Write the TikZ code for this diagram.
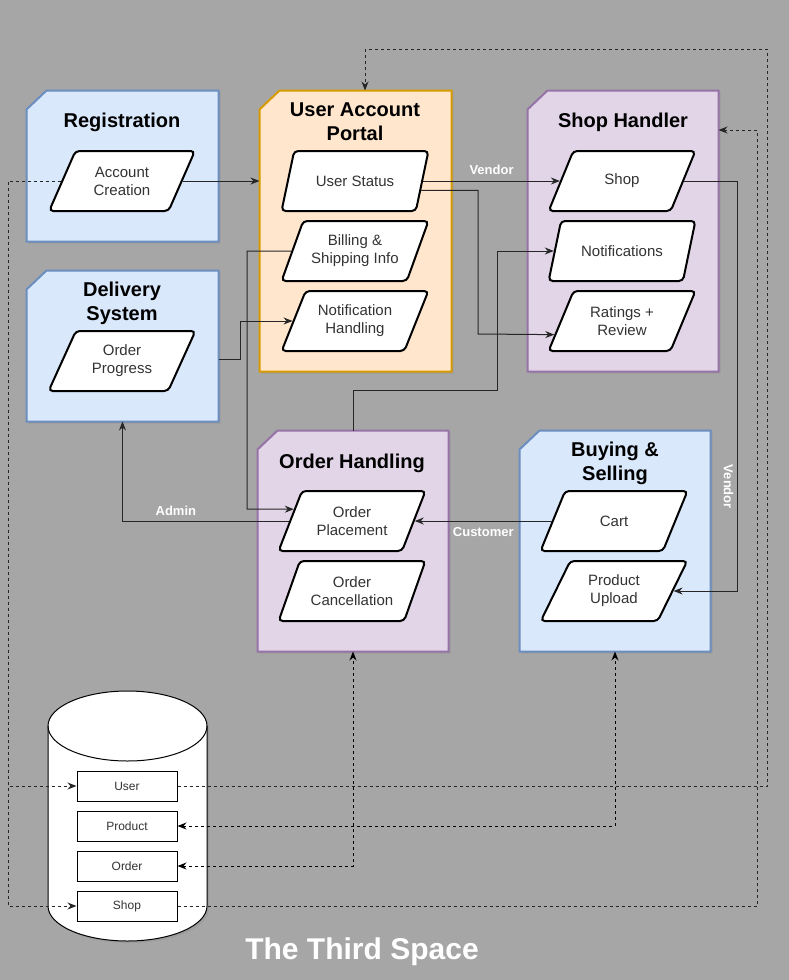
\documentclass[tikz,border=0pt]{standalone}
\usepackage{fontspec}
\setmainfont{Liberation Sans}
\usetikzlibrary{shapes.geometric,arrows.meta,shadows,calc,positioning}
\definecolor{bgray}{RGB}{166,166,166}
\definecolor{bluefill}{HTML}{DAE8FC}
\definecolor{blueline}{HTML}{6C8EBF}
\definecolor{orangefill}{HTML}{FFE6CC}
\definecolor{orangeline}{HTML}{D79B00}
\definecolor{purplefill}{HTML}{E1D5E7}
\definecolor{purpleline}{HTML}{9673A6}
\begin{document}
\begin{tikzpicture}[x=1pt, y=-1pt, line width=1pt, node distance=70pt,
    box/.style = {rectangle, inner sep=0pt},
    card/.style = {line width=2pt, drop shadow={shadow xshift=2pt, shadow yshift=-2pt, opacity=0.25}},
    bluecard/.style = {card, draw=blueline, fill=bluefill},
    orangecard/.style = {card, draw=orangeline, fill=orangefill},
    purplecard/.style = {card, draw=purpleline, fill=purplefill},
    title/.style = {font=\fontsize{20}{24}\selectfont\bfseries, align=center},
    proc/.style = {trapezium, trapezium left angle=63, trapezium right angle=117, trapezium stretches=true, minimum width=147pt, minimum height=60pt, draw, fill=white, line width=2pt, rounded corners=4pt, align=center, text=black!80, font=\fontsize{15}{18}\selectfont},
    row/.style = {draw, fill=white, line width=1pt, minimum width=100pt, minimum height=30pt, text=black!80, font=\fontsize{12}{14}\selectfont},
    tag/.style = {text=white, font=\fontsize{13}{15}\selectfont\bfseries},
    arr/.style = {draw=black!85, -{Stealth[length=9pt, width=7pt]}},
    dbl/.style = {{Stealth[length=9pt, width=7pt]}-{Stealth[length=9pt, width=7pt]}},
    dashline/.style = {dash pattern=on 3pt off 3pt}]
    \useasboundingbox (0,0) rectangle (789,980);
    \fill[bgray] (0,0) rectangle (789,980);
    \node[box, minimum width=191pt, minimum height=150pt] (reg) at (122.5,166) {};
    \node[box, minimum width=191pt, minimum height=150pt] (ds) at (122.5,346) {};
    \node[box, minimum width=191pt, minimum height=280pt] (uap) at (355.5,231) {};
    \node[box, minimum width=190pt, minimum height=280pt] (sh) at (623,231) {};
    \node[box, minimum width=190pt, minimum height=220pt] (oh) at (353,541) {};
    \node[box, minimum width=190pt, minimum height=220pt] (bs) at (615,541) {};
    \foreach \c/\s in {reg/bluecard, ds/bluecard, uap/orangecard, sh/purplecard, oh/purplecard, bs/bluecard}
        \filldraw[\s] ([yshift=-19pt]\c.north west) -- ([xshift=20pt]\c.north west) -- (\c.north east) -- (\c.south east) -- (\c.south west) -- cycle;
    \node[title] (reg-t) at (122,122) {Registration};
    \node[title] (ds-t) at (122,303) {Delivery\\System};
    \node[title] (uap-t) at (355,122) {User Account\\Portal};
    \node[title] (sh-t) at (623,122) {Shop Handler};
    \node[title] (oh-t) at (352,463) {Order Handling};
    \node[title] (bs-t) at (615,463) {Buying \&\\Selling};
    \node[proc] (ac) at (122,181) {Account\\Creation};
    \node[proc] (prog) at (122,361) {Order\\Progress};
    \node[proc] (us) at (355,181) {User Status};
    \node[proc] (bill) [below of=us] {Billing \&\\Shipping Info};
    \node[proc] (nh) [below of=bill] {Notification\\Handling};
    \node[proc] (shop) at (622,181) {Shop};
    \node[proc] (nt) [below of=shop] {Notifications};
    \node[proc] (rr) [below of=nt] {Ratings +\\Review};
    \node[proc] (op) at (352,521) {Order\\Placement};
    \node[proc] (oc) [below of=op] {Order\\Cancellation};
    \node[proc] (cart) at (614,521) {Cart};
    \node[proc] (pu) [below of=cart] {Product\\Upload};
    \filldraw[fill=white, line width=1pt, drop shadow={shadow xshift=2pt, shadow yshift=-2pt, opacity=0.25}] (48,726) -- (48,906) arc[start angle=180, end angle=360, x radius=79.5pt, y radius=35pt] -- (207,726) arc[start angle=0, end angle=180, x radius=79.5pt, y radius=35pt] -- cycle;
    \draw (48,726) arc[start angle=180, end angle=360, x radius=79.5pt, y radius=35pt];
    \node[row] (user) at (127,786) {User};
    \node[row, node distance=40pt] (product) [below of=user] {Product};
    \node[row, node distance=40pt] (order) [below of=product] {Order};
    \node[row, node distance=40pt] (shopdb) [below of=order] {Shop};
    \node[font=\fontsize{30}{36}\selectfont\bfseries, text=white] (name) at (362,952) {The Third Space};
    \draw[arr] (ac.right side) -- (ac.right side -| uap.west);
    \draw[arr] (us.right side) -- node[tag, above=3pt] {Vendor} (shop.left side);
    \draw[arr] ($(us.bottom right corner)!0.35!(us.top right corner)$) -| (478,334) -- ($(rr.bottom left corner)!0.28!(rr.top left corner)$);
    \draw[arr] (bill.left side) -| (247,509) -- ($(op.bottom left corner)!0.69!(op.top left corner)$);
    \draw[arr] (op.left side) -| node[tag, pos=0.34, above=2pt] {Admin} (ds.south);
    \draw[arr] ([yshift=-13pt]ds.east) -| (240,321) -- (nh.left side);
    \draw[arr] (oh.north) |- (497,390) |- (nt.left side);
    \draw[arr] (shop.right side) -| node[tag, pos=0.873, rotate=-90, below] {Vendor} (737,591) -- (pu.right side);
    \draw[arr] (cart.left side) -- node[tag, below=3pt] {Customer} (op.right side);
    \draw[arr, dashline] (ac.left side) -| (8,786) -- (user.west);
    \draw[arr, dashline] (ac.left side) -| (8,906) -- (shopdb.west);
    \draw[arr, dashline] (user.east) -| (767,49) -| ([xshift=9.5pt]uap.north);
    \draw[arr, dashline] (shopdb.east) -| (757,130) -- (sh.east |- 757,130);
    \draw[dbl, dashline] (product.east) -| (bs.south);
    \draw[dbl, dashline] (order.east) -| (oh.south);
\end{tikzpicture}
\end{document}
